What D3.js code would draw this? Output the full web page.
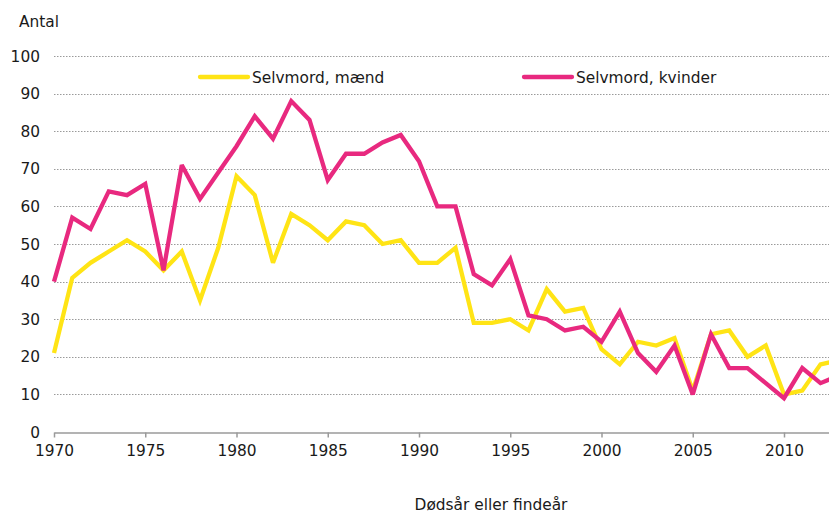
<!DOCTYPE html>
<html>
<head>
<meta charset="utf-8">
<script src="https://cdn.jsdelivr.net/npm/d3@7"></script>
<style>
  body { margin: 0; background: #fff; }
  svg { display: block; font-family: "DejaVu Sans", Verdana, sans-serif; }
  .grid line { stroke: #9a9a9a; stroke-dasharray: 1.5 1.5; }
  .lbl { font-size: 15.4px; fill: #1a1a1a; }
</style>
</head>
<body>
<div id="chart"></div>
<script>
// chart data
const years = d3.range(1970, 2014);
const men = [21, 41, 45, 48, 51, 48, 43, 48, 35, 49,
             68, 63, 45, 58, 55, 51, 56, 55, 50, 51,
             45, 45, 49, 29, 29, 30, 27, 38, 32, 33,
             22, 18, 24, 23, 25, 11, 26, 27, 20, 23,
             10, 11, 18, 19];
const women = [40, 57, 54, 64, 63, 66, 43, 71, 62, 69,
               76, 84, 78, 88, 83, 67, 74, 74, 77, 79,
               72, 60, 60, 42, 39, 46, 31, 30, 27, 28,
               24, 32, 21, 16, 23, 10, 26, 17, 17, 13,
               9, 17, 13, 15];
const yTicks = [0, 10, 20, 30, 40, 50, 60, 70, 80, 90, 100];
const xTicks = [1970, 1975, 1980, 1985, 1990, 1995, 2000, 2005, 2010];
const seriesNames = ['Selvmord, mænd', 'Selvmord, kvinder'];
const colors = ['#ffe415', '#e8297f'];

const width = 829, height = 515;
const margin = { top: 56, left: 54, bottom: 83 };

const svg = d3.select('#chart').append('svg')
  .attr('width', width)
  .attr('height', height);

// x scale runs a bit past the right edge, the last year is cut off
const x = d3.scaleLinear()
  .domain([1970, 2013])
  .range([margin.left, margin.left + 43 * 18.25]);
const y = d3.scaleLinear()
  .domain([0, 100])
  .range([height - margin.bottom, margin.top]);

// gridlines
svg.append('g').attr('class', 'grid')
  .selectAll('line')
  .data(yTicks.filter(d => d > 0))
  .join('line')
  .attr('x1', margin.left).attr('x2', width)
  .attr('y1', d => Math.round(y(d)) + 0.5).attr('y2', d => Math.round(y(d)) + 0.5);

// y labels
svg.append('g')
  .selectAll('text')
  .data(yTicks)
  .join('text')
  .attr('class', 'lbl')
  .attr('x', 40)
  .attr('y', d => y(d))
  .attr('dy', '0.36em')
  .attr('text-anchor', 'end')
  .text(d => d);

svg.append('text').attr('class', 'lbl')
  .attr('x', 19).attr('y', 27)
  .text('Antal');

// x axis
const xAxis = svg.append('g')
  .attr('transform', `translate(0,${Math.round(y(0)) + 0.5})`)
  .call(d3.axisBottom(x).tickValues(xTicks).tickFormat(d3.format('d'))
    .tickSize(5).tickPadding(8).tickSizeOuter(0));
xAxis.select('.domain').attr('stroke', '#9a9a9a').attr('stroke-width', 1.5);
xAxis.selectAll('.tick line').attr('stroke', '#9a9a9a').attr('stroke-width', 1.5);
xAxis.selectAll('.tick text')
  .attr('class', 'lbl')
  .style('font-family', '"DejaVu Sans", Verdana, sans-serif')
  .attr('fill', '#1a1a1a');

svg.append('text').attr('class', 'lbl')
  .attr('x', 491).attr('y', 510)
  .attr('text-anchor', 'middle')
  .text('Dødsår eller findeår');

// lines
const line = d3.line()
  .x((d, i) => x(years[i]))
  .y(d => y(d));

svg.append('g')
  .selectAll('path')
  .data([men, women])
  .join('path')
  .attr('d', line)
  .attr('fill', 'none')
  .attr('stroke', (d, i) => colors[i])
  .attr('stroke-width', 4.3)
  .attr('stroke-linejoin', 'miter')
  .attr('stroke-miterlimit', 3);

// legend
const legendX = [200, 524];
const legend = svg.append('g')
  .selectAll('g')
  .data(seriesNames)
  .join('g')
  .attr('transform', (d, i) => `translate(${legendX[i]},77)`);
legend.append('line')
  .attr('x1', 0).attr('x2', 48)
  .attr('stroke', (d, i) => colors[i])
  .attr('stroke-width', 4.3)
  .attr('stroke-linecap', 'round');
legend.append('text').attr('class', 'lbl')
  .attr('x', 52).attr('dy', '0.36em')
  .text(d => d);
</script>
</body>
</html>
